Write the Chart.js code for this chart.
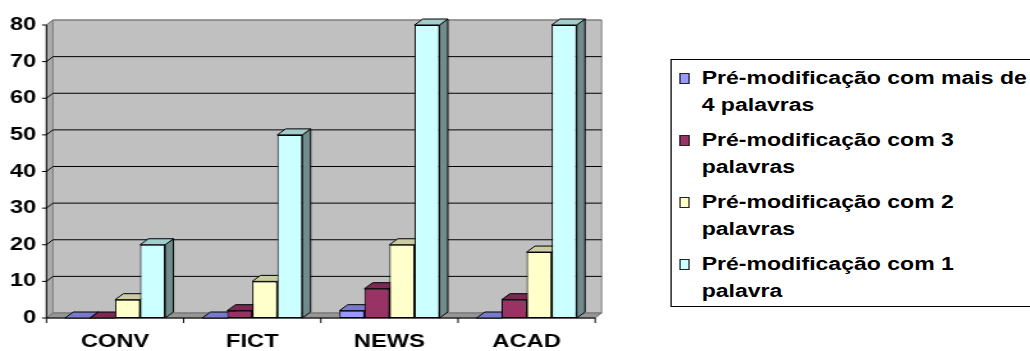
<!DOCTYPE html>
<html>
<head>
<meta charset="utf-8">
<script src="https://cdn.jsdelivr.net/npm/chart.js@4/dist/chart.umd.min.js"></script>
<style>
  html, body { margin: 0; padding: 0; background: #fff; overflow: hidden; }
  #stage { position: absolute; left: 0; top: 0; width: 805px; height: 351px;
           transform: scaleX(1.2795); transform-origin: 0 0; }
  #chart { position: absolute; left: 0; top: 0; }
  #legend { position: absolute; left: 524px; top: 59px; width: 300px; height: 246px;
            border: 1px solid #000; background: #fff;
            font: bold 18px 'Liberation Sans', Arial, sans-serif; color: #000; }
  .item { position: absolute; left: 23.4px; line-height: 26.7px; white-space: nowrap; }
  .swatch { position: absolute; left: 5.7px; width: 6.4px; height: 9px; border: 1px solid #222; }
</style>
</head>
<body>
<div id="stage">
  <canvas id="chart" width="805" height="351"></canvas>
  <div id="legend"></div>
</div>
<script>
// Genres on the category axis
const categories = ['CONV', 'FICT', 'NEWS', 'ACAD'];

// Series values per genre
const premodMais4 = [0, 0, 2, 0];
const premod3 = [0, 2, 8, 5];
const premod2 = [5, 10, 20, 18];
const premod1 = [20, 50, 80, 80];

// Series names, split into the lines shown in the legend
const seriesNames = [
  ['Pré-modificação com mais de', '4 palavras'],
  ['Pré-modificação com 3', 'palavras'],
  ['Pré-modificação com 2', 'palavras'],
  ['Pré-modificação com 1', 'palavra']
];
const seriesColors = ['#9999ff', '#993366', '#ffffcc', '#ccffff'];

// Value axis range and step
const yMin = 0;
const yMax = 80;
const yStep = 10;

const FONT = "'Liberation Sans', Arial, sans-serif";

function shade(hex, f) {
  const n = parseInt(hex.slice(1), 16);
  const r = Math.round(((n >> 16) & 255) * f);
  const g = Math.round(((n >> 8) & 255) * f);
  const b = Math.round((n & 255) * f);
  return `rgb(${r},${g},${b})`;
}

function poly(ctx, pts, fill, stroke) {
  ctx.beginPath();
  ctx.moveTo(pts[0][0], pts[0][1]);
  for (let i = 1; i < pts.length; i++) ctx.lineTo(pts[i][0], pts[i][1]);
  ctx.closePath();
  if (fill) { ctx.fillStyle = fill; ctx.fill(); }
  if (stroke) { ctx.strokeStyle = stroke; ctx.stroke(); }
}

// Walls, floor, grid and the depth faces of each column
const depthPlugin = {
  id: 'depth3d',
  beforeDatasetsDraw(chart) {
    const ctx = chart.ctx;
    const xs = chart.scales.x, ys = chart.scales.y;
    const L = xs.left, R = xs.right;
    const T = ys.getPixelForValue(yMax), B = ys.getPixelForValue(yMin);
    const wdx = 5, wdy = 5;
    ctx.save();
    ctx.lineWidth = 1;

    // back wall
    poly(ctx, [[L + wdx, T - wdy], [R + wdx, T - wdy], [R + wdx, B - wdy], [L + wdx, B - wdy]], '#c0c0c0', '#808080');
    // side wall
    poly(ctx, [[L, T], [L + wdx, T - wdy], [L + wdx, B - wdy], [L, B]], '#ababab', '#808080');

    // grid lines along side and back walls
    for (let v = yMin + yStep; v <= yMax; v += yStep) {
      const y = ys.getPixelForValue(v);
      ctx.beginPath();
      ctx.moveTo(L, y);
      ctx.lineTo(L + wdx, y - wdy);
      ctx.lineTo(R + wdx, y - wdy);
      ctx.strokeStyle = v === yMax ? '#7a7a7a' : '#000';
      ctx.stroke();
    }

    // floor
    poly(ctx, [[L, B], [R, B], [R + wdx, B - wdy], [L + wdx, B - wdy]], '#969696', '#6e6e6e');

    // value axis line and tick marks
    ctx.strokeStyle = '#000';
    ctx.beginPath();
    ctx.moveTo(L, T); ctx.lineTo(L, B);
    for (let v = yMin; v <= yMax; v += yStep) {
      const y = ys.getPixelForValue(v);
      ctx.moveTo(L - 3.5, y); ctx.lineTo(L, y);
    }
    // category axis line and boundary ticks
    ctx.moveTo(L, B); ctx.lineTo(R, B);
    const n = categories.length;
    for (let k = 0; k <= n; k++) {
      const x = L + k * (R - L) / n;
      ctx.moveTo(x, B); ctx.lineTo(x, B + 5);
    }
    ctx.stroke();

    // column tops and right-hand sides
    const bdx = 6.5, bdy = 6;
    for (let j = 0; j < n; j++) {
      chart.data.datasets.forEach((ds, i) => {
        const el = chart.getDatasetMeta(i).data[j];
        const p = el.getProps(['x', 'y', 'base', 'width'], true);
        const xl = p.x - p.width / 2, xr = p.x + p.width / 2;
        const col = seriesColors[i];
        poly(ctx, [[xr, p.y], [xr + bdx, p.y - bdy], [xr + bdx, p.base - bdy], [xr, p.base]], shade(col, 0.55), '#000');
        poly(ctx, [[xl, p.y], [xl + bdx, p.y - bdy], [xr + bdx, p.y - bdy], [xr, p.y]], shade(col, 0.8), '#000');
      });
    }
    ctx.restore();
  }
};

const seriesValues = [premodMais4, premod3, premod2, premod1];

const chart = new Chart(document.getElementById('chart'), {
  type: 'bar',
  data: {
    labels: categories,
    datasets: seriesValues.map((vals, i) => ({
      label: seriesNames[i].join(' '),
      data: vals,
      backgroundColor: seriesColors[i],
      borderColor: '#000',
      borderWidth: 1,
      borderSkipped: false,
      barPercentage: 1,
      categoryPercentage: 0.73
    }))
  },
  options: {
    responsive: false,
    animation: false,
    devicePixelRatio: 1,
    layout: { padding: { top: 25, right: 339.8, bottom: 0, left: 0 } },
    plugins: { legend: { display: false }, tooltip: { enabled: false } },
    scales: {
      x: {
        grid: { display: false, drawTicks: false },
        border: { display: false },
        ticks: { color: '#000', padding: 13, font: { family: FONT, size: 18.5, weight: 'bold' } },
        afterFit(s) { s.height = 33; }
      },
      y: {
        min: yMin, max: yMax,
        grid: { display: false, drawTicks: false },
        border: { display: false },
        ticks: { stepSize: yStep, color: '#000', padding: 8, font: { family: FONT, size: 18.5, weight: 'bold' } },
        afterFit(s) { s.width = 36.3; }
      }
    }
  },
  plugins: [depthPlugin]
});

// Legend: one swatch and wrapped name per series
const legend = document.getElementById('legend');
const firstLineTop = 5.4, itemStep = 61.8, swatchTop = 13.3;
chart.data.datasets.forEach((ds, i) => {
  const sw = document.createElement('div');
  sw.className = 'swatch';
  sw.style.top = (swatchTop + i * itemStep) + 'px';
  sw.style.background = seriesColors[i];
  legend.appendChild(sw);
  const txt = document.createElement('div');
  txt.className = 'item';
  txt.style.top = (firstLineTop + i * itemStep) + 'px';
  txt.innerHTML = seriesNames[i].map(s => s.replace(/&/g, '&amp;')).join('<br>');
  legend.appendChild(txt);
});
</script>
</body>
</html>
